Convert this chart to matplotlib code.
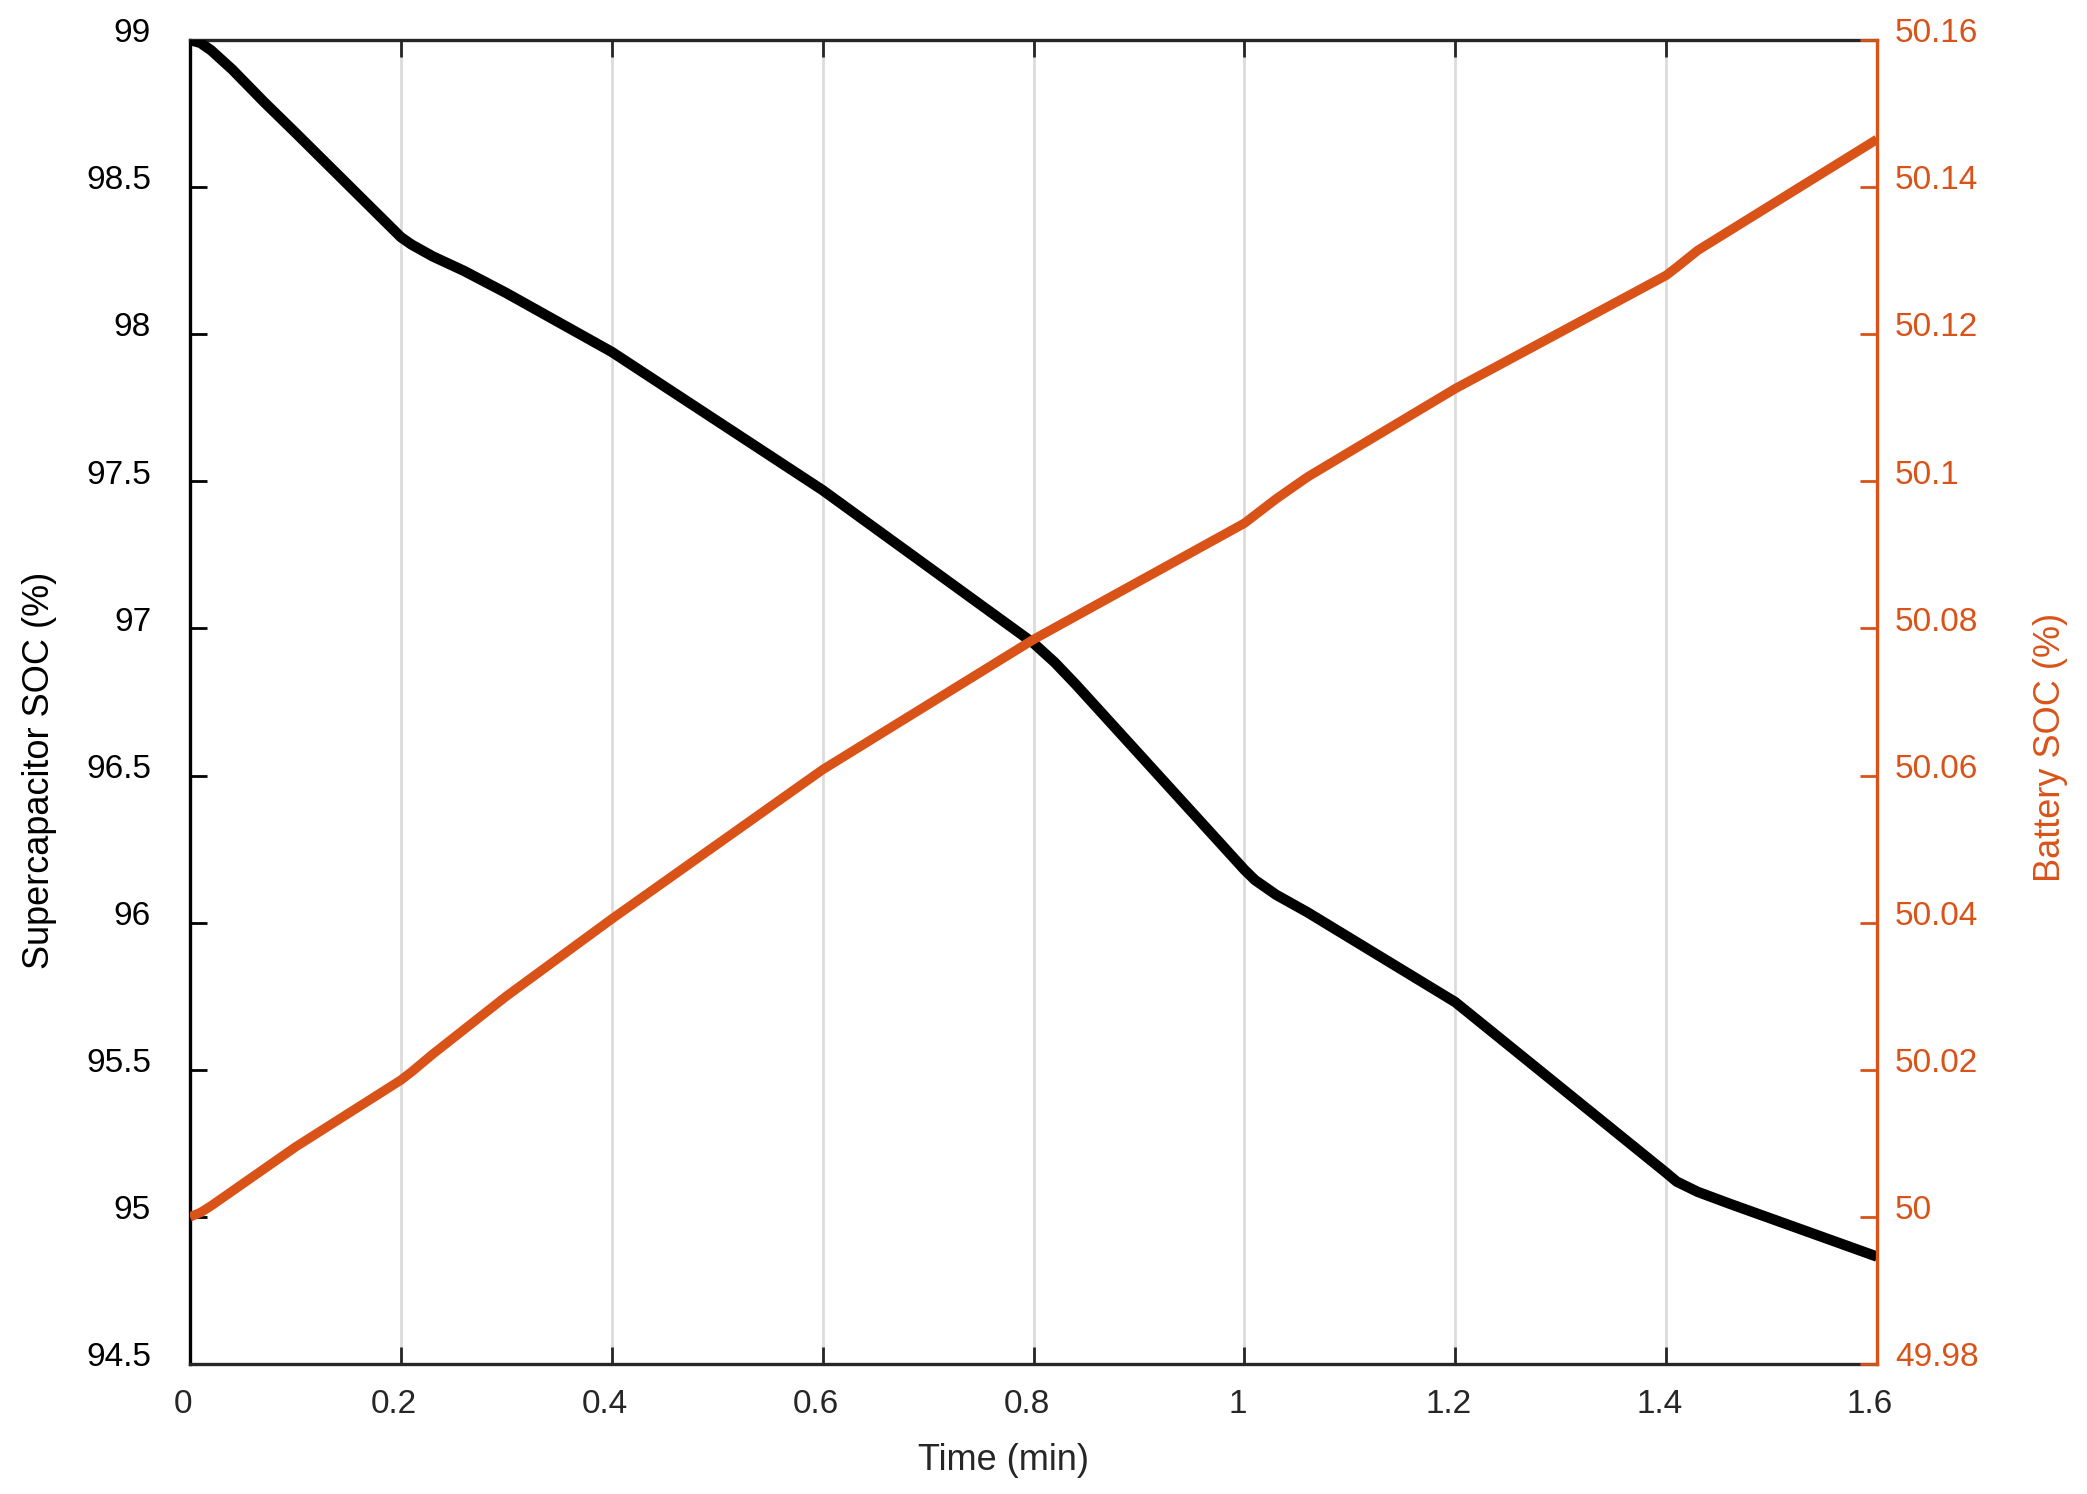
import matplotlib
matplotlib.use("Agg")
import matplotlib.pyplot as plt
import matplotlib.transforms as mtransforms

# ---- data ----
t_sc = [0.0, 0.01, 0.02, 0.04, 0.07, 0.10, 0.20, 0.21, 0.23, 0.26, 0.30, 0.40,
        0.60, 0.80, 0.82, 0.84, 1.00, 1.01, 1.03, 1.06, 1.20, 1.40, 1.41, 1.43,
        1.46, 1.60]
soc_sc = [99.00, 98.99, 98.965, 98.90, 98.79, 98.685, 98.33, 98.305, 98.265,
          98.215, 98.14, 97.94, 97.47, 96.95, 96.885, 96.81, 96.18, 96.145,
          96.095, 96.035, 95.73, 95.15, 95.12, 95.085, 95.045, 94.865]

t_bat = [0.0, 0.01, 0.02, 0.05, 0.10, 0.20, 0.21, 0.23, 0.30, 0.40, 0.60, 0.80,
         1.00, 1.01, 1.03, 1.06, 1.20, 1.40, 1.41, 1.43, 1.60]
soc_bat = [50.000, 50.0006, 50.0015, 50.0045, 50.0095, 50.0186, 50.0197,
           50.0221, 50.030, 50.0405, 50.0608, 50.0785, 50.0943, 50.0954,
           50.0976, 50.1006, 50.1126, 50.128, 50.1291, 50.1314, 50.1465]

x_ticks = [0, 0.2, 0.4, 0.6, 0.8, 1.0, 1.2, 1.4, 1.6]
x_labels = ["0", "0.2", "0.4", "0.6", "0.8", "1", "1.2", "1.4", "1.6"]
yl_ticks = [94.5, 95, 95.5, 96, 96.5, 97, 97.5, 98, 98.5, 99]
yl_labels = ["94.5", "95", "95.5", "96", "96.5", "97", "97.5", "98", "98.5", "99"]
yr_ticks = [49.98, 50.0, 50.02, 50.04, 50.06, 50.08, 50.10, 50.12, 50.14, 50.16]
yr_labels = ["49.98", "50", "50.02", "50.04", "50.06", "50.08", "50.1", "50.12", "50.14", "50.16"]

ORANGE = "#D95319"
DARK = "#262626"
FS = 24
FSL = 26

plt.rcParams['font.family'] = ['Liberation Sans', 'DejaVu Sans']

fig = plt.figure(figsize=(20.87, 14.94), dpi=100)
ax = fig.add_axes([190/2087, 1 - 1364/1494, (1877-190)/2087, (1364-40)/1494])
ax2 = ax.twinx()

ax.plot(t_sc, soc_sc, color="black", lw=7.5, solid_capstyle='butt',
        solid_joinstyle='round', zorder=3)
ax2.plot(t_bat, soc_bat, color=ORANGE, lw=6.8, solid_capstyle='butt',
         solid_joinstyle='round', zorder=3)

ax.set_xlim(0, 1.6)
ax.set_ylim(94.5, 99)
ax2.set_ylim(49.98, 50.16)

ax.set_xticks(x_ticks)
ax.set_xticklabels(x_labels)
ax.set_yticks(yl_ticks)
ax.set_yticklabels(yl_labels)
ax2.set_yticks(yr_ticks)
ax2.set_yticklabels(yr_labels)

ax.grid(axis='x', color="#DCDCDC", lw=2, zorder=0)
ax.set_axisbelow(True)

ax.tick_params(axis='x', direction='in', length=12, width=2, color=DARK,
               labelcolor=DARK, labelsize=FS, pad=18, top=True)
ax.tick_params(axis='y', direction='in', length=12, width=2, color='black',
               labelcolor='black', labelsize=FS, pad=28, right=False)
ax2.tick_params(axis='y', direction='in', length=12, width=2, color=ORANGE,
                labelcolor=ORANGE, labelsize=FS, pad=13)

for s in ['top', 'bottom']:
    ax.spines[s].set_color(DARK)
    ax.spines[s].set_linewidth(2.4)
    ax2.spines[s].set_visible(False)
ax.spines['left'].set_color('black')
ax.spines['left'].set_linewidth(2.4)
ax.spines['right'].set_visible(False)
ax2.spines['left'].set_visible(False)
ax2.spines['right'].set_color(ORANGE)
ax2.spines['right'].set_linewidth(2.4)

# shift y tick labels slightly upward like the reference
shift = mtransforms.ScaledTranslation(0, 7/72, fig.dpi_scale_trans)
for lab in ax.get_yticklabels() + ax2.get_yticklabels():
    lab.set_transform(lab.get_transform() + shift)
shiftx = mtransforms.ScaledTranslation(-5/72, 0, fig.dpi_scale_trans)
for lab in ax.get_xticklabels():
    lab.set_transform(lab.get_transform() + shiftx)

fig.text(1004/2087, 1 - 1461/1494, "Time (min)", ha='center', va='center',
         fontsize=FSL, color=DARK)
fig.text(40/2087, 1 - 770/1494, "Supercapacitor SOC (%)", ha='center', va='center',
         rotation=90, fontsize=FSL, color='black')
fig.text(2050/2087, 1 - 747/1494, "Battery SOC (%)", ha='center', va='center',
         rotation=90, fontsize=FSL, color=ORANGE)

fig.savefig("out.png", dpi=100, facecolor='white')
